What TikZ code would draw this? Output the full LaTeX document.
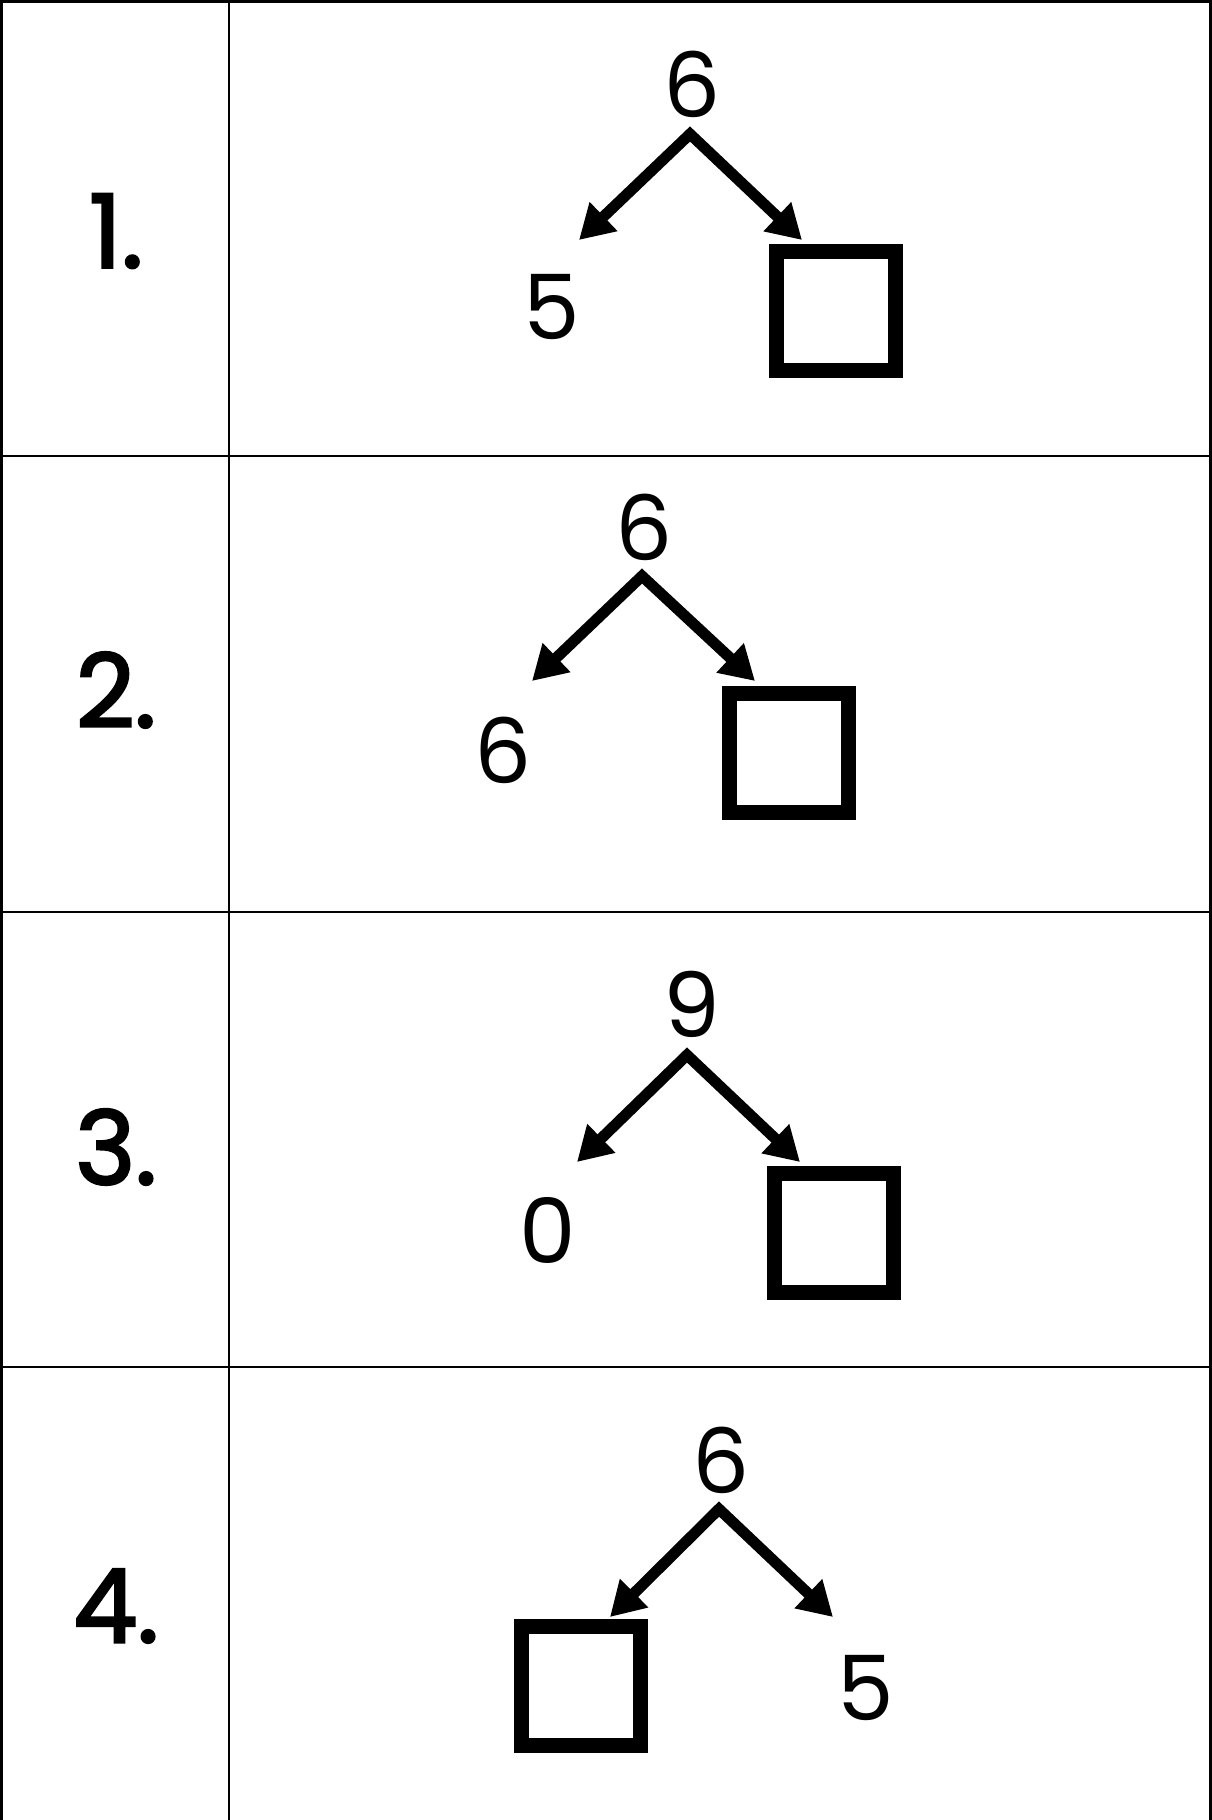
\documentclass[tikz,border=0pt]{standalone}
\usepackage{fontspec}
\newfontfamily\treefont{Poppins}
\newfontfamily\labelfont{Poppins}[FakeBold=2.5]
\usetikzlibrary{arrows.meta,positioning}
\tikzset{
  num/.style={font=\treefont\fontsize{90}{90}\selectfont, inner sep=0pt},
  rowlbl/.style={font=\labelfont\fontsize{102}{102}\selectfont, inner sep=0pt},
  blank/.style={draw, line width=15pt, minimum size=119pt, inner sep=0pt},
  branch/.style={{Triangle[length=34pt,width=38pt]}-{Triangle[length=34pt,width=38pt]},
                 line width=11pt, line join=miter},
  rule/.style={line width=2.5pt}
}
\begin{document}
\begin{tikzpicture}[x=1pt, y=-1pt]
  \useasboundingbox (0,0) rectangle (1212,1820);

  % table
  \draw[rule, line width=3pt] (1.5,1820) -- (1.5,1.5) -- (1210.5,1.5) -- (1210.5,1820);
  \draw[rule] (229,0) -- (229,1820);
  \draw[rule] (0,456) -- (1212,456);
  \draw[rule] (0,912) -- (1212,912);
  \draw[rule] (0,1367) -- (1212,1367);

  % row labels
  \node[rowlbl] (lbl1) at (116,231) {1.};
  \node[rowlbl] (lbl2) at (116,690) {2.};
  \node[rowlbl] (lbl3) at (116,1147) {3.};
  \node[rowlbl] (lbl4) at (116,1606) {4.};

  % row 1
  \node[num] (top1) at (692,84) {6};
  \node[num] (left1) at (552,307) {5};
  \node[blank] (box1) at (836,311) {};
  \coordinate (apex1) at (690,134);
  \coordinate (tipL1) at (579,240);
  \coordinate (tipR1) at (802,240);
  \draw[branch] (tipL1) -- (apex1) -- (tipR1);

  % row 2
  \node[num] (top2) at (644,527) {6};
  \node[num] (left2) at (503,750) {6};
  \node[blank] (box2) at (789,753) {};
  \coordinate (apex2) at (642,576);
  \coordinate (tipL2) at (532,681);
  \coordinate (tipR2) at (755,681);
  \draw[branch] (tipL2) -- (apex2) -- (tipR2);

  % row 3
  \node[num] (top3) at (692,1004) {9};
  \node[num] (left3) at (548,1230) {0};
  \node[blank] (box3) at (834,1233) {};
  \coordinate (apex3) at (687,1055);
  \coordinate (tipL3) at (577,1162);
  \coordinate (tipR3) at (800,1162);
  \draw[branch] (tipL3) -- (apex3) -- (tipR3);

  % row 4, blank on the left
  \node[num] (top4) at (721,1460) {6};
  \node[blank] (box4) at (581,1686) {};
  \node[num] (right4) at (866,1688) {5};
  \coordinate (apex4) at (719,1509);
  \coordinate (tipL4) at (610,1617);
  \coordinate (tipR4) at (833,1617);
  \draw[branch] (tipL4) -- (apex4) -- (tipR4);
\end{tikzpicture}
\end{document}
